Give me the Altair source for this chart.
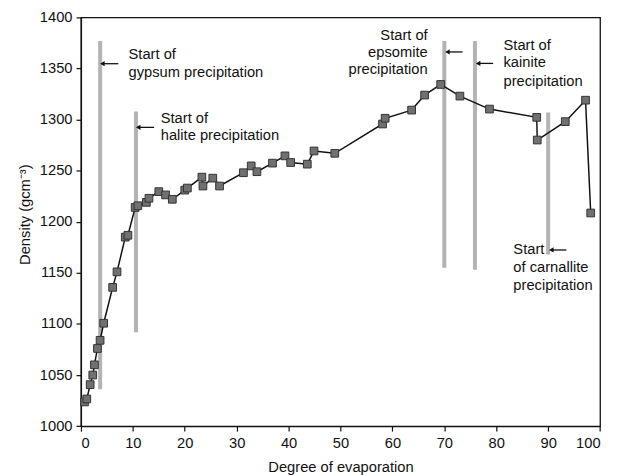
import altair as alt
import pandas as pd

# --- data ---
evaporation = [0.69, 1.13, 1.78, 2.28, 2.60, 3.18, 3.69, 4.38, 6.11, 6.95, 8.54, 9.05,
               10.45, 10.97, 12.6, 13.1, 15.0, 16.3, 17.6, 20.0, 20.5, 23.3, 23.5, 25.4,
               26.7, 31.3, 32.8, 33.9, 36.9, 39.3, 40.4, 43.6, 44.9, 48.9, 58.1, 58.6,
               63.7, 66.2, 69.3, 73.0, 78.7, 87.8, 87.9, 93.3, 97.2, 98.2]
density = [1023.7, 1026.6, 1040.6, 1050, 1060, 1076, 1084, 1100.7, 1135.8, 1151, 1185, 1186.8,
           1214, 1215.7, 1219, 1223, 1229.5, 1226.3, 1222, 1231, 1233, 1243.7, 1235, 1242.7,
           1235, 1248, 1254.7, 1249, 1257.4, 1264.5, 1258, 1256.4, 1269.3, 1267, 1295.7, 1301.3,
           1309.3, 1324, 1334.4, 1323, 1310.3, 1302.2, 1280, 1298, 1319, 1208.6]

minerals = ["gypsum", "halite", "epsomite", "kainite", "carnallite"]
mineral_x = [3.7, 10.6, 70.0, 75.9, 90.0]
mineral_top = [1377, 1308, 1377, 1377, 1307]
mineral_bottom = [1036, 1092, 1155, 1153, 1168]

arrow_head_x = [4.13, 11.03, 70.6, 76.5, 90.6]
arrow_tail_x = [7.2, 14.1, 73.5, 79.4, 93.5]
arrow_y = [1354.7, 1292.4, 1366.2, 1355.0, 1172.4]

label_text = ["Start of", "gypsum precipitation",
              "Start of", "halite precipitation",
              "Start of", "epsomite", "precipitation",
              "Start of", "kainite", "precipitation",
              "Start", "of carnallite", "precipitation"]
label_x = [9.17, 9.17, 15.37, 15.37, 66.8, 66.8, 66.8, 81.4, 81.4, 81.4, 83.3, 83.3, 83.3]
label_y = [1363, 1345.2, 1301, 1284.2, 1381.5, 1365.3, 1348.2, 1371.8, 1355, 1337,
           1172.4, 1154.9, 1137.4]
label_align = ["left", "left", "left", "left", "right", "right", "right",
               "left", "left", "left", "left", "left", "left"]

FONT = "Liberation Sans"
FS = 14.8

pts = pd.DataFrame({"evap": evaporation, "dens": density, "i": range(len(evaporation))})
lines = pd.DataFrame({"m": minerals, "x": mineral_x, "top": mineral_top, "bot": mineral_bottom})
arrows = pd.DataFrame({"hx": arrow_head_x, "tx": arrow_tail_x, "y": arrow_y})
labels = pd.DataFrame({"t": label_text, "x": label_x, "y": label_y, "a": label_align})

xscale = alt.Scale(domain=[0, 100], nice=False, zero=False)
yscale = alt.Scale(domain=[1000, 1400], nice=False, zero=False)

xaxis = alt.Axis(values=list(range(0, 101, 10)), title="Degree of evaporation", format="d",
                 grid=False, tickSize=5, labelPadding=5, titlePadding=9)
yaxis = alt.Axis(values=list(range(1000, 1401, 50)), title="Density (gcm⁻³)", format="d",
                 grid=False, tickSize=5, labelPadding=4, titlePadding=7, titleY=198)

rules = alt.Chart(lines).mark_rule(color="#b3b3b3", strokeWidth=4).encode(
    x=alt.X("x:Q", scale=xscale, axis=xaxis),
    y=alt.Y("top:Q", scale=yscale, axis=yaxis),
    y2="bot:Q",
)

line = alt.Chart(pts).mark_line(color="#111111", strokeWidth=1.5).encode(
    x=alt.X("evap:Q", scale=xscale),
    y=alt.Y("dens:Q", scale=yscale),
    order="i:Q",
)

points = alt.Chart(pts).mark_point(shape="square", filled=True, size=60,
                                   fill="#707070", stroke="#333333",
                                   strokeWidth=1, opacity=1).encode(
    x=alt.X("evap:Q", scale=xscale),
    y=alt.Y("dens:Q", scale=yscale),
)

arrow_shafts = alt.Chart(arrows).mark_rule(color="#111111", strokeWidth=1.3).encode(
    x=alt.X("hx:Q", scale=xscale), x2="tx:Q", y=alt.Y("y:Q", scale=yscale))

arrow_heads = alt.Chart(arrows).mark_point(shape="triangle-left", filled=True, size=28,
                                           color="#111111", opacity=1).encode(
    x=alt.X("hx:Q", scale=xscale), y=alt.Y("y:Q", scale=yscale))

texts_left = alt.Chart(labels).transform_filter("datum.a == 'left'").mark_text(
    align="left", baseline="middle", font=FONT, fontSize=FS, color="#111111").encode(
    x=alt.X("x:Q", scale=xscale), y=alt.Y("y:Q", scale=yscale), text="t:N")

texts_right = alt.Chart(labels).transform_filter("datum.a == 'right'").mark_text(
    align="right", baseline="middle", font=FONT, fontSize=FS, color="#111111").encode(
    x=alt.X("x:Q", scale=xscale), y=alt.Y("y:Q", scale=yscale), text="t:N")

chart = alt.layer(rules, line, points, arrow_shafts, arrow_heads, texts_left, texts_right).properties(
    width=522.4, height=411.3,
    autosize=alt.AutoSizeParams(type="none"),
    padding={"left": 73.4, "top": 8, "right": 10, "bottom": 50},
).configure_view(
    stroke="#111111", strokeWidth=1.3
).configure_axis(
    labelFont=FONT, labelFontSize=FS, labelColor="#111111",
    titleFont=FONT, titleFontSize=FS, titleFontWeight="normal", titleColor="#111111",
    domainColor="#111111", tickColor="#111111", domainWidth=1.3, tickWidth=1.2,
)

chart.save("out.html", embed_options={"renderer": "svg", "actions": False})
